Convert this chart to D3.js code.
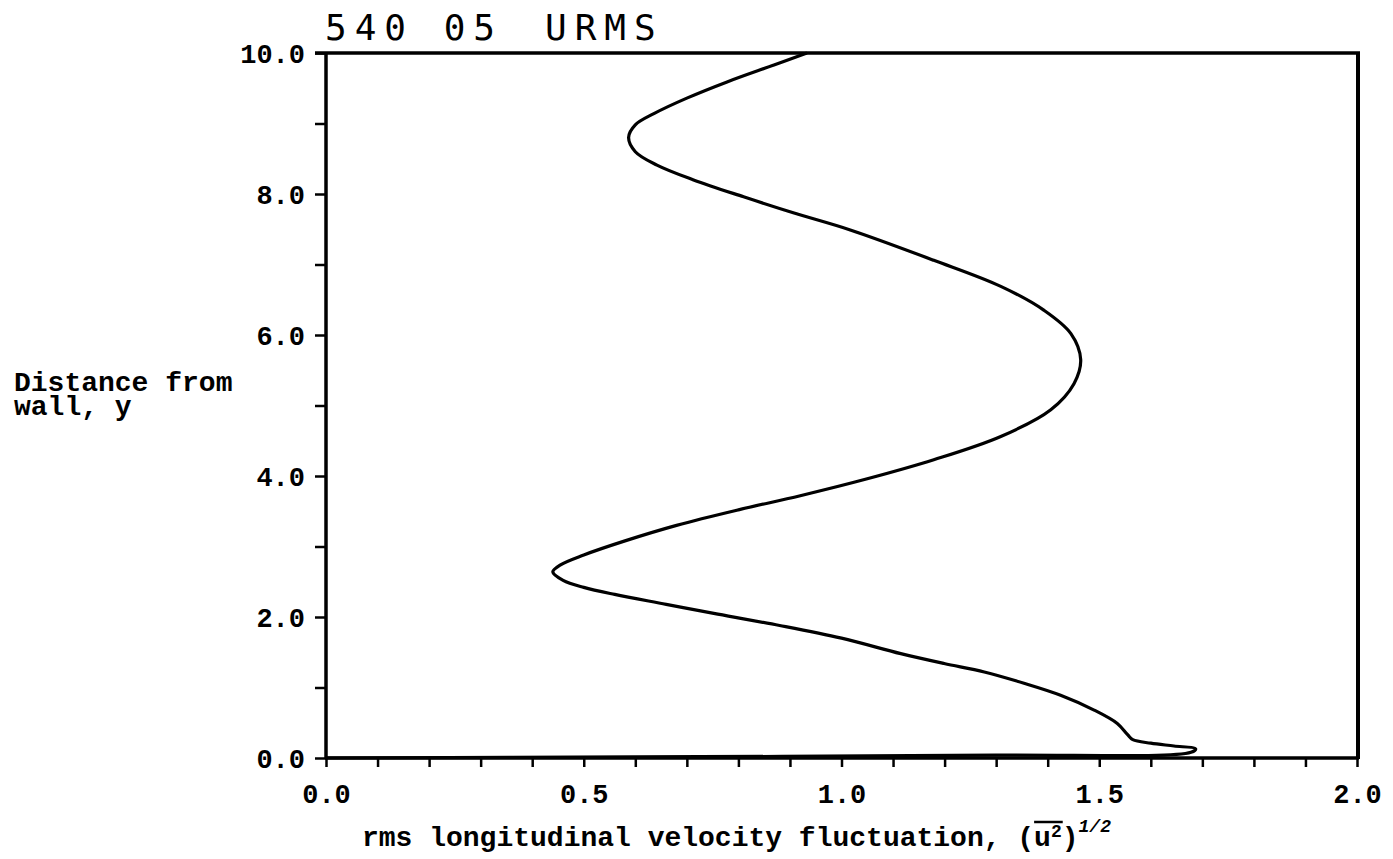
<!DOCTYPE html>
<html>
<head>
<meta charset="utf-8">
<script src="https://cdn.jsdelivr.net/npm/d3@7"></script>
<style>
  body { margin: 0; background: #fff; }
  text { fill: #000; }
</style>
</head>
<body>
<script>
// rms longitudinal velocity fluctuation vs distance from wall
var uValues = [0.933, 0.869, 0.778, 0.700, 0.636, 0.600, 0.587, 0.600, 0.642, 0.713,
               0.810, 0.908, 1.017, 1.179, 1.309, 1.393, 1.445, 1.464, 1.451, 1.406,
               1.309, 1.179, 1.050, 0.920, 0.800, 0.680, 0.580, 0.500, 0.455, 0.440,
               0.460, 0.500, 0.560, 0.660, 0.760, 0.880, 1.000, 1.115, 1.199, 1.277,
               1.354, 1.425, 1.490, 1.535, 1.555, 1.565, 1.600, 1.645, 1.687, 1.678,
               1.300, 0.600, 0.000];
var yValues = [10.00, 9.83, 9.59, 9.36, 9.14, 8.98, 8.80, 8.60, 8.41, 8.20,
               7.96, 7.73, 7.49, 7.06, 6.69, 6.35, 6.02, 5.65, 5.31, 4.94,
               4.56, 4.23, 3.96, 3.72, 3.52, 3.30, 3.08, 2.88, 2.74, 2.64,
               2.52, 2.42, 2.32, 2.18, 2.04, 1.88, 1.70, 1.48, 1.34, 1.22,
               1.06, 0.89, 0.68, 0.49, 0.33, 0.26, 0.21, 0.17, 0.13, 0.08,
               0.04, 0.015, 0.00];

var xTicks = d3.range(0, 21).map(function(i){ return i / 10; });
var yTicks = d3.range(0, 11);
var xTickLabels = ["0.0", "0.5", "1.0", "1.5", "2.0"];
var yTickLabels = ["0.0", "2.0", "4.0", "6.0", "8.0", "10.0"];

var W = 1393, H = 859;
var plotL = 326, plotR = 1357, plotT = 53, plotB = 758;

var svg = d3.select("body").append("svg")
  .attr("width", W)
  .attr("height", H);

var x = d3.scaleLinear().domain([0, 2]).range([plotL, plotR]);
var y = d3.scaleLinear().domain([0, 10]).range([plotB, plotT]);

var labelFont = "'Liberation Mono', 'Courier New', monospace";

// x axis, ticks every 0.1, labels every 0.5
var xAxis = svg.append("g")
  .attr("transform", "translate(0," + plotB + ")")
  .call(d3.axisBottom(x)
    .tickValues(xTicks)
    .tickSize(9)
    .tickSizeOuter(0)
    .tickPadding(10)
    .tickFormat(function(d){
      var i = Math.round(d * 10);
      return i % 5 == 0 ? xTickLabels[i / 5] : "";
    }));

// y axis, ticks every 1, labels every 2
var yAxis = svg.append("g")
  .attr("transform", "translate(" + plotL + ",0)")
  .call(d3.axisLeft(y)
    .tickValues(yTicks)
    .tickSize(11)
    .tickSizeOuter(0)
    .tickPadding(10)
    .tickFormat(function(d){
      return d % 2 == 0 ? yTickLabels[d / 2] : "";
    }));

svg.selectAll(".domain").remove();
svg.selectAll(".tick line").attr("stroke", "#000").attr("stroke-width", 2.5);
svg.selectAll(".tick text")
  .style("font-family", labelFont)
  .style("font-weight", "bold")
  .style("font-size", "27px")
  .attr("fill", "#000");
xAxis.selectAll(".tick text").attr("dy", "0.95em");
yAxis.selectAll(".tick text").attr("dy", "0.36em");

// frame
var frame = svg.append("g").attr("stroke", "#000").attr("fill", "none");
frame.append("line").attr("x1", x(0)).attr("x2", x(0)).attr("y1", y(10) - 1).attr("y2", y(0) + 1).attr("stroke-width", 3.5);
frame.append("line").attr("x1", x(0) - 1).attr("x2", x(2) + 2).attr("y1", y(0)).attr("y2", y(0)).attr("stroke-width", 3.5);
frame.append("line").attr("x1", x(0) - 11).attr("x2", x(2) + 3).attr("y1", y(10)).attr("y2", y(10)).attr("stroke-width", 3.5);
frame.append("line").attr("x1", x(2) + 1).attr("x2", x(2) + 1).attr("y1", y(10) - 1).attr("y2", y(0) + 1).attr("stroke-width", 4);

// curve
var pts = uValues.map(function(u, i){ return [u, yValues[i]]; });
var line = d3.line()
  .x(function(d){ return x(d[0]); })
  .y(function(d){ return y(d[1]); })
  .curve(d3.curveCatmullRom.alpha(0.5));

svg.append("path")
  .datum(pts)
  .attr("d", line)
  .attr("fill", "none")
  .attr("stroke", "#000")
  .attr("stroke-width", 3.2)
  .attr("stroke-linejoin", "round");

// title
var titleFont = "'DejaVu Sans Mono', monospace";
svg.append("text")
  .attr("x", 325).attr("y", 40)
  .style("font-family", titleFont)
  .style("font-size", "36px")
  .style("letter-spacing", "8px")
  .text("540 05");
svg.append("text")
  .attr("x", 545).attr("y", 40)
  .style("font-family", titleFont)
  .style("font-size", "36px")
  .style("letter-spacing", "8px")
  .text("URMS");

// y axis title
var yt = svg.append("text")
  .style("font-family", labelFont)
  .style("font-weight", "bold")
  .style("font-size", "28px");
yt.append("tspan").attr("x", 14).attr("y", 391).text("Distance from");
yt.append("tspan").attr("x", 14).attr("y", 415).text("wall, y");

// x axis title
var xt = svg.append("text")
  .attr("x", 362).attr("y", 846)
  .style("font-family", labelFont)
  .style("font-weight", "bold")
  .style("font-size", "28px");
xt.append("tspan").text("rms longitudinal velocity fluctuation, (");
xt.append("tspan").text("u");
xt.append("tspan").attr("dy", -9).style("font-size", "18px").text("2");
xt.append("tspan").attr("dy", 9).text(")");
xt.append("tspan").attr("dy", -14).style("font-size", "18px").style("font-style", "italic").text("1/2");

// overline over u^2
var node = xt.node();
var n0 = "rms longitudinal velocity fluctuation, (".length;
var ox1 = node.getStartPositionOfChar(n0).x;
var ox2 = node.getEndPositionOfChar(n0 + 1).x;
svg.append("line")
  .attr("x1", ox1).attr("x2", ox2 + 1)
  .attr("y1", 822).attr("y2", 822)
  .attr("stroke", "#000").attr("stroke-width", 2.5);
</script>
</body>
</html>
